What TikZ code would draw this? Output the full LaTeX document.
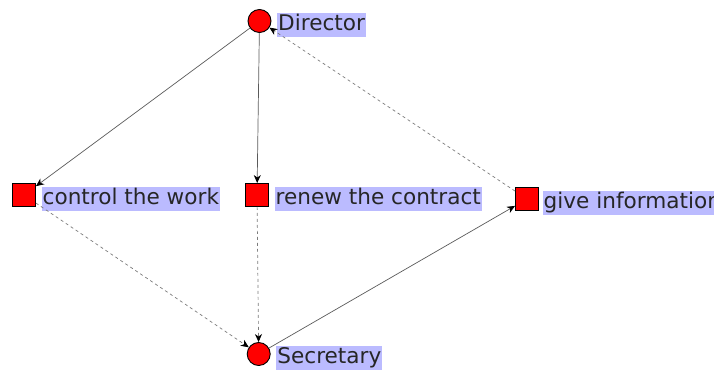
\documentclass[tikz,border=0pt]{standalone}
\usepackage{fontspec}
\setmainfont{DejaVu Sans}
\usetikzlibrary{arrows.meta,calc}
\definecolor{labelbg}{RGB}{187,187,255}
\definecolor{edgegray}{RGB}{90,90,90}
\begin{document}
\begin{tikzpicture}[x=1pt,y=1pt,
  person/.style={circle,draw=black,fill=red,line width=0.9pt,minimum size=23pt,inner sep=0pt},
  task/.style={rectangle,draw=black,fill=red,line width=0.9pt,minimum size=23pt,inner sep=0pt},
  tag/.style={anchor=west,fill=labelbg,inner sep=1pt,
    font=\fontsize{21.6}{25}\selectfont,text height=16.3pt,text depth=5pt,text=black!85},
  link/.style={draw=edgegray,line width=0.7pt,
    -{Stealth[length=8pt,width=7pt,inset=2.5pt,color=black]}},
  weak/.style={link,dash pattern=on 3pt off 3pt,draw=edgegray!80}
]
\useasboundingbox (0,0) rectangle (714,370);

% actors and tasks
\node[person] (dir) at (259.5,349) {};
\node[task]   (ctl) at (24,175) {};
\node[task]   (ren) at (257,175) {};
\node[task]   (giv) at (527,171) {};
\node[person] (sec) at (258.7,16) {};

% labels beside each shape
\node[tag] (ldir) at ($(dir)+(17.5,-4)$) {Director};
\node[tag] (lctl) at ($(ctl)+(17.5,-4)$) {control the work};
\node[tag] (lren) at ($(ren)+(17.5,-4)$) {renew the contract};
\node[tag] (lgiv) at ($(giv)+(15.5,-4)$) {give information};
\node[tag] (lsec) at ($(sec)+(17.5,-4)$) {Secretary};

% relations
\draw[link] (dir) -- (ctl);
\draw[link] (dir) -- (ren);
\draw[link] (sec) -- (giv);
\draw[weak] (giv) -- (dir);
\draw[weak] (ctl) -- (sec);
\draw[weak] (ren) -- (sec);
\end{tikzpicture}
\end{document}
